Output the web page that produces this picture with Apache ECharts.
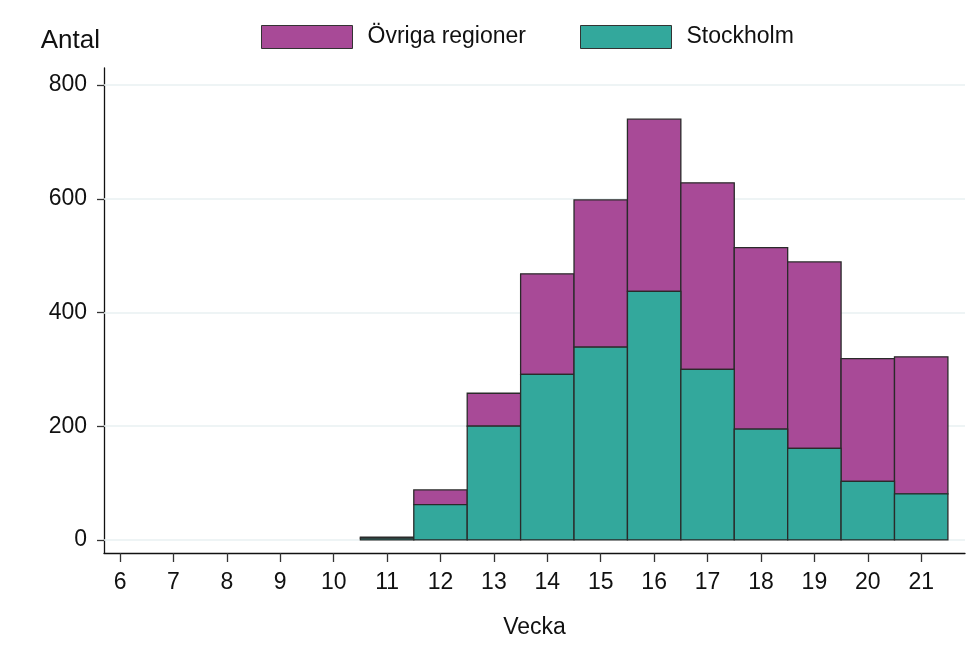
<!DOCTYPE html>
<html>
<head>
<meta charset="utf-8">
<script src="https://cdn.jsdelivr.net/npm/echarts@6/dist/echarts.min.js"></script>
<style>html,body{margin:0;padding:0;background:#fff}#c{width:974px;height:645px}</style>
</head>
<body>
<div id="c"></div>
<script>
const weeks = [11, 12, 13, 14, 15, 16, 17, 18, 19, 20, 21];
const stockholm = [3, 62, 200, 291, 339, 437, 300, 195, 161, 103, 81];
const ovriga = [2, 26, 58, 177, 259, 303, 328, 319, 328, 216, 241];
const xTicks = [6, 7, 8, 9, 10, 11, 12, 13, 14, 15, 16, 17, 18, 19, 20, 21];
const yTicks = [0, 200, 400, 600, 800];

const FONT = '"Liberation Sans", Arial, sans-serif';
const PURPLE = '#A84A97';
const TEAL = '#33A89C';
const EDGE = '#2a2a2a';

const stockData = weeks.map((w, i) => [w, 0, stockholm[i]]);
const ovrData = weeks.map((w, i) => [w, stockholm[i], stockholm[i] + ovriga[i]]);

function renderBar(params, api) {
  const x = api.value(0), lo = api.value(1), hi = api.value(2);
  const p1 = api.coord([x - 0.5, hi]);
  const p2 = api.coord([x + 0.5, lo]);
  return {
    type: 'rect',
    shape: { x: p1[0], y: p1[1], width: p2[0] - p1[0], height: p2[1] - p1[1] },
    style: api.style({ stroke: EDGE, lineWidth: 1.3 })
  };
}

const legendCommon = {
  top: 25, padding: 0, itemWidth: 91, itemHeight: 23,
  icon: 'rect', itemStyle: { borderColor: '#333', borderWidth: 1 },
  textStyle: { fontSize: 23, color: '#111', fontFamily: FONT, padding: [0, 0, 0, 10] }
};

const chart = echarts.init(document.getElementById('c'), null, { renderer: 'canvas' });
chart.setOption({
  animation: false,
  backgroundColor: '#fff',
  textStyle: { fontFamily: FONT },
  grid: { left: 104, right: 9, top: 68, bottom: 92, containLabel: false },
  legend: [
    Object.assign({ data: ['Övriga regioner'], left: 261 }, legendCommon),
    Object.assign({ data: ['Stockholm'], left: 580 }, legendCommon)
  ],
  xAxis: {
    type: 'value', min: 5.7, max: 21.82,
    name: 'Vecka', nameLocation: 'middle', nameGap: 63,
    nameTextStyle: { fontSize: 23, color: '#111', fontFamily: FONT },
    axisLine: { show: true, onZero: false, lineStyle: { color: '#111', width: 1.3 } },
    axisTick: { show: true, customValues: xTicks, length: 9, lineStyle: { color: '#333', width: 1.3 } },
    axisLabel: { customValues: xTicks, fontSize: 23, color: '#111', margin: 18, fontFamily: FONT },
    splitLine: { show: false }
  },
  yAxis: {
    type: 'value', min: -23, max: 830,
    name: 'Antal', nameLocation: 'end', nameGap: 14,
    nameTextStyle: { fontSize: 26, color: '#111', align: 'right', padding: [0, 4, 0, 0], fontFamily: FONT },
    axisLine: { show: true, onZero: false, lineStyle: { color: '#111', width: 1.3 } },
    axisTick: { show: true, customValues: yTicks, length: 7, lineStyle: { color: '#333', width: 1.3 } },
    axisLabel: { customValues: yTicks, fontSize: 23, color: '#111', margin: 17, fontFamily: FONT },
    splitLine: { show: false }
  },
  series: [
    {
      name: 'grid', type: 'line', data: [], z: 1, silent: true,
      markLine: {
        z: 1, silent: true, symbol: 'none', animation: false,
        label: { show: false },
        lineStyle: { color: '#e8f0f2', width: 1.5, type: 'solid' },
        data: yTicks.map(v => ({ yAxis: v }))
      }
    },
    {
      name: 'Övriga regioner', type: 'custom', renderItem: renderBar,
      itemStyle: { color: PURPLE, borderColor: EDGE, borderWidth: 1 },
      encode: { x: 0, y: [1, 2] },
      data: ovrData, z: 3
    },
    {
      name: 'Stockholm', type: 'custom', renderItem: renderBar,
      itemStyle: { color: TEAL, borderColor: EDGE, borderWidth: 1 },
      encode: { x: 0, y: [1, 2] },
      data: stockData, z: 3
    }
  ]
});
</script>
</body>
</html>
